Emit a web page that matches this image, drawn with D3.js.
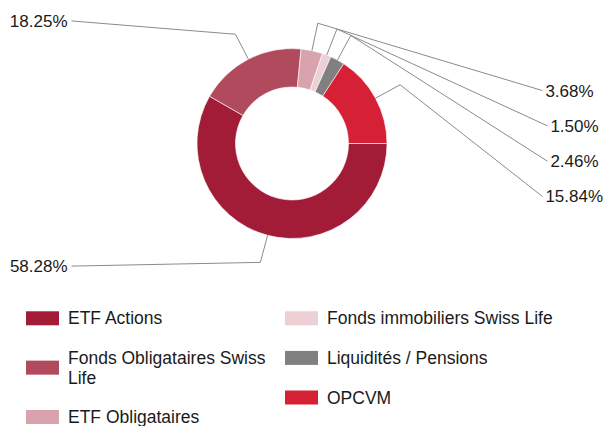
<!DOCTYPE html>
<html>
<head>
<meta charset="utf-8">
<script src="https://cdn.jsdelivr.net/npm/d3@7"></script>
<style>
  body { margin: 0; background: #fff; }
  svg { display: block; font-family: "Liberation Sans", Arial, sans-serif; }
</style>
</head>
<body>
<svg id="chart" width="605" height="426"></svg>
<script>
// Portfolio allocation by asset type
const categories = [
  "ETF Actions",
  "Fonds Obligataires Swiss Life",
  "ETF Obligataires",
  "Fonds immobiliers Swiss Life",
  "Liquidités / Pensions",
  "OPCVM"
];
const shares = [58.28, 18.25, 3.68, 1.50, 2.46, 15.84];
const shareLabels = ["58.28%", "18.25%", "3.68%", "1.50%", "2.46%", "15.84%"];
const colours = ["#a21c37", "#b14a5c", "#d9a3ae", "#ecd0d6", "#808080", "#d62035"];

const W = 605, H = 426;
const cx = 292, cy = 143.5;
const outerR = 95, innerR = 56.5;
const elbowR = 123;       // where connector lines bend
const labelR = 254;       // circle on which connector lines end
const labelShift = 2;     // horizontal offset of that circle from the pie centre
const labelSpan = 122.6;  // max vertical offset of a label from the centre
const rightStep = 35.3;   // spacing of stacked labels on the right side

const svg = d3.select("#chart");

const pie = d3.pie()
  .sort(null)
  .value(d => d)
  .startAngle(Math.PI / 2)
  .endAngle(Math.PI / 2 + 2 * Math.PI);

const arcs = pie(shares);
const arc = d3.arc().innerRadius(innerR).outerRadius(outerR);

const g = svg.append("g").attr("transform", `translate(${cx},${cy})`);

g.selectAll("path.slice")
  .data(arcs)
  .join("path")
  .attr("class", "slice")
  .attr("d", arc)
  .attr("fill", (d, i) => colours[i])
  .attr("stroke", "#fff")
  .attr("stroke-width", 0.6);

// ---- data labels with connectors ----
const TAU = 2 * Math.PI;
const items = arcs.map((d, i) => {
  const mid = (d.startAngle + d.endAngle) / 2;
  const a = ((mid % TAU) + TAU) % TAU;
  return { i, a, right: a < Math.PI };
});

// left side: natural position, clamped to the plot height
items.filter(d => !d.right).forEach(d => {
  const ideal = -138 * Math.cos(d.a);
  d.y = Math.max(-labelSpan, Math.min(labelSpan, ideal));
});
// right side: stacked evenly around the centre, top slice first
const rightItems = items.filter(d => d.right).sort((p, q) => p.a - q.a);
rightItems.forEach((d, k) => {
  d.y = (k - (rightItems.length - 1) / 2) * rightStep;
});

items.forEach(d => {
  const sx = outerR * Math.sin(d.a), sy = -outerR * Math.cos(d.a);
  const ex = elbowR * Math.sin(d.a), ey = -elbowR * Math.cos(d.a);
  const lx = labelShift + (d.right ? 1 : -1) * Math.sqrt(labelR * labelR - d.y * d.y);
  g.append("polyline")
    .attr("points", [[sx, sy], [ex, ey], [lx, d.y]].map(p => p.join(",")).join(" "))
    .attr("fill", "none")
    .attr("stroke", "#8a8a8a")
    .attr("stroke-width", 1);
  g.append("text")
    .attr("x", d.right ? lx + 3 : lx - 4)
    .attr("y", d.y)
    .attr("dy", "0.35em")
    .attr("text-anchor", d.right ? "start" : "end")
    .attr("font-size", 17)
    .attr("fill", "#1a1a1a")
    .text(shareLabels[d.i]);
});

// ---- legend: two columns of three ----
const colX = [26, 285];
const firstY = 318.3, itemStep = 39.6, lineStep = 19.5;
const perCol = 3;
const legendLines = [];
const legend = svg.append("g");

categories.forEach((name, i) => {
  const col = Math.floor(i / perCol);
  const x = colX[col];
  const textX = x + 42;
  const maxW = (col + 1 < colX.length ? colX[col + 1] : W) - textX - 8;
  // y of this item: step down through the previous items of the column
  let y = firstY;
  for (let j = col * perCol; j < i; j++) y += itemStep + lineStep * (legendLines[j] - 1);

  const t = legend.append("text")
    .attr("x", textX).attr("y", y).attr("dy", "0.35em")
    .attr("font-size", 17.5).attr("fill", "#1a1a1a");
  const words = name.split(" ");
  let line = [], tspan = t.append("tspan").attr("x", textX);
  let lines = 1;
  words.forEach(w => {
    line.push(w);
    tspan.text(line.join(" "));
    if (tspan.node().getComputedTextLength() > maxW && line.length > 1) {
      line.pop();
      tspan.text(line.join(" "));
      line = [w];
      tspan = t.append("tspan").attr("x", textX).attr("dy", lineStep).text(w);
      lines++;
    }
  });
  legendLines[i] = lines;

  legend.append("rect")
    .attr("x", x)
    .attr("y", y + (lines - 1) * lineStep / 2 - 7)
    .attr("width", 33).attr("height", 14)
    .attr("fill", colours[i]);
});
</script>
</body>
</html>
